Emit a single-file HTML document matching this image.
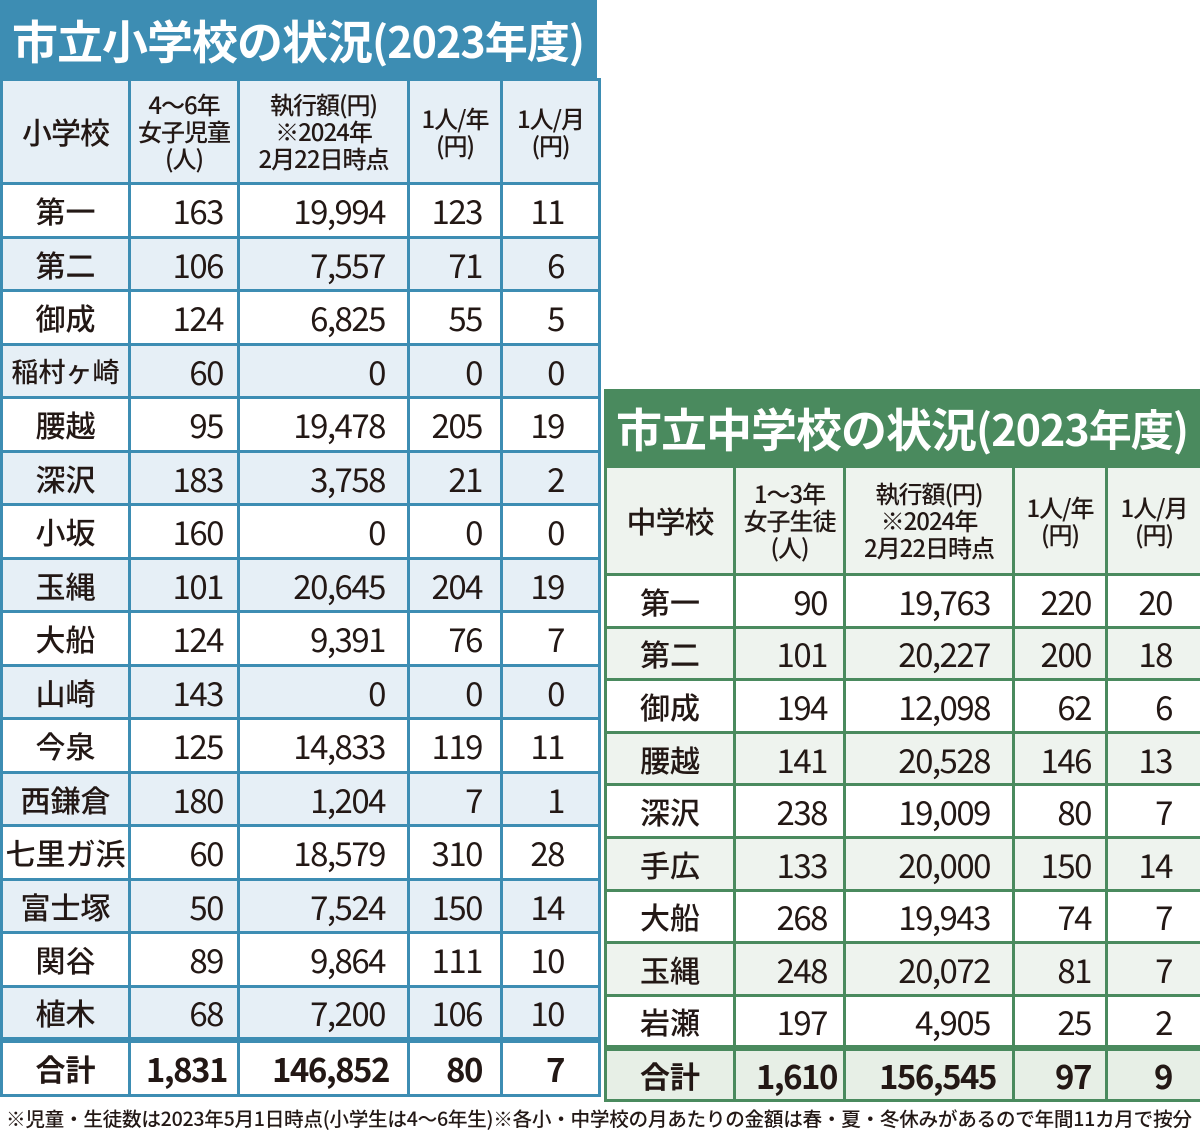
<!DOCTYPE html>
<html><head><meta charset="utf-8"><style>
*{margin:0;padding:0;box-sizing:border-box}
body{width:1200px;height:1135px;background:#fff;position:relative;overflow:hidden;font-family:"Liberation Sans Narrow","Noto Sans CJK JP",sans-serif;color:#231815}
.box{position:absolute}
.title{color:#fff;font-family:"Noto Sans CJK JP",sans-serif;font-weight:700;white-space:nowrap;display:flex;align-items:center;padding-left:12px;letter-spacing:-1px}
table{border-collapse:collapse;table-layout:fixed;position:absolute}
td{border:3px solid;font-size:33px;text-align:right;white-space:nowrap;overflow:hidden;letter-spacing:-1.5px}
td.n{text-align:center;font-family:"Noto Sans CJK JP",sans-serif;font-size:30px;font-weight:500;letter-spacing:0}
td.h{font-family:"Noto Sans CJK JP",sans-serif;font-size:24px;line-height:1.12;text-align:center;font-weight:500;letter-spacing:-1px}
td.h.big{font-size:30px}
.L td{border-color:#3d8db3}
.R td{border-color:#4a8a5e}
.L tr.s td{background:#e6eff6}
.R tr.s td{background:#eef3ee}
tr.t td{font-weight:700;border-top-width:6px}
.L tr.t td{background:#fff}
.R tr.t td{background:#e7efe6}
.foot{position:absolute;left:6px;top:1103px;font-family:"Noto Sans CJK JP",sans-serif;font-size:19.5px;white-space:nowrap;transform-origin:0 0;transform:scaleX(1.007);font-weight:500;letter-spacing:-0.3px}
</style></head><body>
<div class="box title" style="left:0;top:0;width:597px;height:80px;background:#3d8db3;font-size:46px">市立小学校の状況<span style="font-size:43px">(2023年度)</span></div>
<table class="L" style="left:0;top:78px;width:598px">
<colgroup><col style="width:128px"><col style="width:109px"><col style="width:170px"><col style="width:93px"><col style="width:98px"></colgroup>
<tr class="s" style="height:104px"><td class="h big">小学校</td><td class="h">4〜6年<br>女子児童<br>(人)</td><td class="h">執行額(円)<br>※2024年<br>2月22日時点</td><td class="h">1人/年<br>(円)</td><td class="h">1人/月<br>(円)</td></tr>
<tr style="height:53.5px"><td class="n">第一</td><td style="padding-right:14px">163</td><td style="padding-right:22px">19,994</td><td style="padding-right:18px">123</td><td style="padding-right:34px">11</td></tr>
<tr class="s" style="height:53.5px"><td class="n">第二</td><td style="padding-right:14px">106</td><td style="padding-right:22px">7,557</td><td style="padding-right:18px">71</td><td style="padding-right:34px">6</td></tr>
<tr style="height:53.5px"><td class="n">御成</td><td style="padding-right:14px">124</td><td style="padding-right:22px">6,825</td><td style="padding-right:18px">55</td><td style="padding-right:34px">5</td></tr>
<tr class="s" style="height:53.5px"><td class="n" style="font-size:27px">稲村ヶ崎</td><td style="padding-right:14px">60</td><td style="padding-right:22px">0</td><td style="padding-right:18px">0</td><td style="padding-right:34px">0</td></tr>
<tr style="height:53.5px"><td class="n">腰越</td><td style="padding-right:14px">95</td><td style="padding-right:22px">19,478</td><td style="padding-right:18px">205</td><td style="padding-right:34px">19</td></tr>
<tr class="s" style="height:53.5px"><td class="n">深沢</td><td style="padding-right:14px">183</td><td style="padding-right:22px">3,758</td><td style="padding-right:18px">21</td><td style="padding-right:34px">2</td></tr>
<tr style="height:53.5px"><td class="n">小坂</td><td style="padding-right:14px">160</td><td style="padding-right:22px">0</td><td style="padding-right:18px">0</td><td style="padding-right:34px">0</td></tr>
<tr class="s" style="height:53.5px"><td class="n">玉縄</td><td style="padding-right:14px">101</td><td style="padding-right:22px">20,645</td><td style="padding-right:18px">204</td><td style="padding-right:34px">19</td></tr>
<tr style="height:53.5px"><td class="n">大船</td><td style="padding-right:14px">124</td><td style="padding-right:22px">9,391</td><td style="padding-right:18px">76</td><td style="padding-right:34px">7</td></tr>
<tr class="s" style="height:53.5px"><td class="n">山崎</td><td style="padding-right:14px">143</td><td style="padding-right:22px">0</td><td style="padding-right:18px">0</td><td style="padding-right:34px">0</td></tr>
<tr style="height:53.5px"><td class="n">今泉</td><td style="padding-right:14px">125</td><td style="padding-right:22px">14,833</td><td style="padding-right:18px">119</td><td style="padding-right:34px">11</td></tr>
<tr class="s" style="height:53.5px"><td class="n">西鎌倉</td><td style="padding-right:14px">180</td><td style="padding-right:22px">1,204</td><td style="padding-right:18px">7</td><td style="padding-right:34px">1</td></tr>
<tr style="height:53.5px"><td class="n">七里ガ浜</td><td style="padding-right:14px">60</td><td style="padding-right:22px">18,579</td><td style="padding-right:18px">310</td><td style="padding-right:34px">28</td></tr>
<tr class="s" style="height:53.5px"><td class="n">富士塚</td><td style="padding-right:14px">50</td><td style="padding-right:22px">7,524</td><td style="padding-right:18px">150</td><td style="padding-right:34px">14</td></tr>
<tr style="height:53.5px"><td class="n">関谷</td><td style="padding-right:14px">89</td><td style="padding-right:22px">9,864</td><td style="padding-right:18px">111</td><td style="padding-right:34px">10</td></tr>
<tr class="s" style="height:53.5px"><td class="n">植木</td><td style="padding-right:14px">68</td><td style="padding-right:22px">7,200</td><td style="padding-right:18px">106</td><td style="padding-right:34px">10</td></tr>
<tr class="t" style="height:56px"><td class="n">合計</td><td style="padding-right:10px">1,831</td><td style="padding-right:18px">146,852</td><td style="padding-right:18px">80</td><td style="padding-right:34px">7</td></tr>
</table>

<div class="box title" style="left:604px;top:389px;width:596px;height:78px;background:#4a8a5e;font-size:46px">市立中学校の状況<span style="font-size:43px">(2023年度)</span></div>
<table class="R" style="left:604px;top:465px;width:596px">
<colgroup><col style="width:129px"><col style="width:110px"><col style="width:169px"><col style="width:93px"><col style="width:95px"></colgroup>
<tr class="s" style="height:108px"><td class="h big">中学校</td><td class="h">1〜3年<br>女子生徒<br>(人)</td><td class="h">執行額(円)<br>※2024年<br>2月22日時点</td><td class="h">1人/年<br>(円)</td><td class="h">1人/月<br>(円)</td></tr>
<tr style="height:52.6px"><td class="n">第一</td><td style="padding-right:16px">90</td><td style="padding-right:22px">19,763</td><td style="padding-right:14px">220</td><td style="padding-right:28px">20</td></tr>
<tr class="s" style="height:52.6px"><td class="n">第二</td><td style="padding-right:16px">101</td><td style="padding-right:22px">20,227</td><td style="padding-right:14px">200</td><td style="padding-right:28px">18</td></tr>
<tr style="height:52.6px"><td class="n">御成</td><td style="padding-right:16px">194</td><td style="padding-right:22px">12,098</td><td style="padding-right:14px">62</td><td style="padding-right:28px">6</td></tr>
<tr class="s" style="height:52.6px"><td class="n">腰越</td><td style="padding-right:16px">141</td><td style="padding-right:22px">20,528</td><td style="padding-right:14px">146</td><td style="padding-right:28px">13</td></tr>
<tr style="height:52.6px"><td class="n">深沢</td><td style="padding-right:16px">238</td><td style="padding-right:22px">19,009</td><td style="padding-right:14px">80</td><td style="padding-right:28px">7</td></tr>
<tr class="s" style="height:52.6px"><td class="n">手広</td><td style="padding-right:16px">133</td><td style="padding-right:22px">20,000</td><td style="padding-right:14px">150</td><td style="padding-right:28px">14</td></tr>
<tr style="height:52.6px"><td class="n">大船</td><td style="padding-right:16px">268</td><td style="padding-right:22px">19,943</td><td style="padding-right:14px">74</td><td style="padding-right:28px">7</td></tr>
<tr class="s" style="height:52.6px"><td class="n">玉縄</td><td style="padding-right:16px">248</td><td style="padding-right:22px">20,072</td><td style="padding-right:14px">81</td><td style="padding-right:28px">7</td></tr>
<tr style="height:52.6px"><td class="n">岩瀬</td><td style="padding-right:16px">197</td><td style="padding-right:22px">4,905</td><td style="padding-right:14px">25</td><td style="padding-right:28px">2</td></tr>
<tr class="t" style="height:52px"><td class="n">合計</td><td style="padding-right:6px">1,610</td><td style="padding-right:16px">156,545</td><td style="padding-right:14px">97</td><td style="padding-right:28px">9</td></tr>
</table>

<div class="foot">※児童・生徒数は2023年5月1日時点(小学生は4〜6年生)※各小・中学校の月あたりの金額は春・夏・冬休みがあるので年間11カ月で按分</div>
</body></html>
